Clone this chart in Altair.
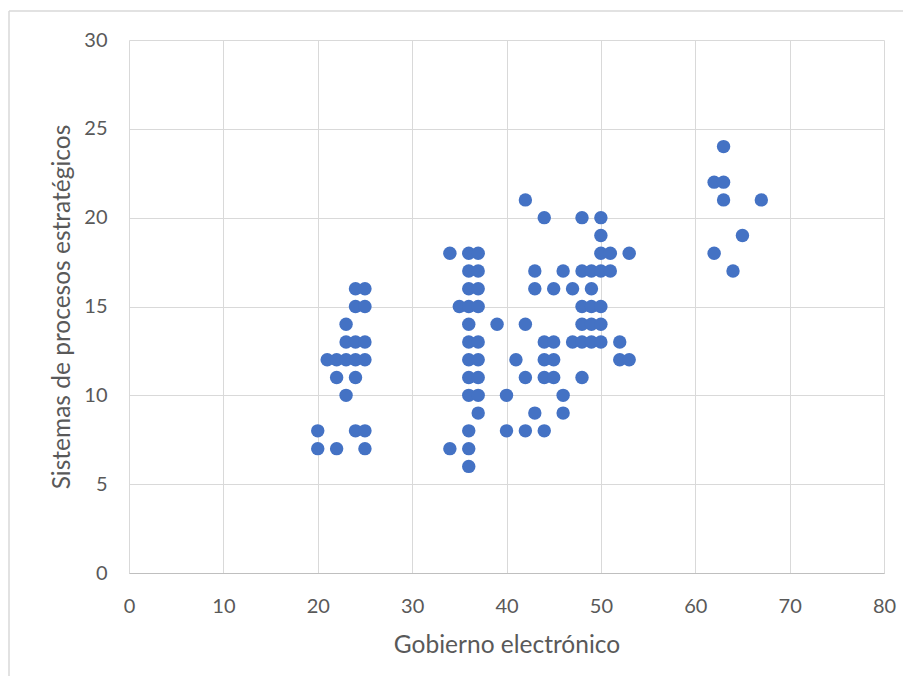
import altair as alt
import pandas as pd

gobierno = [24, 25, 24, 25, 23, 23, 24, 25, 21, 22, 23, 24, 25, 22, 24, 23, 20, 24, 25, 20, 22, 25,
            34, 36, 37, 36, 37, 36, 37, 35, 36, 37, 36, 39, 42, 36, 37, 36, 37, 41, 36, 37, 42,
            36, 37, 40, 37, 43, 36, 40, 42, 34, 36, 36,
            42, 44, 48, 50, 50, 50, 51, 53, 43, 46, 48, 49, 50, 51, 43, 45, 47, 49, 48, 49, 50,
            48, 49, 50, 44, 45, 47, 48, 49, 50, 52, 44, 45, 52, 53, 44, 45, 48, 46, 46, 44,
            63, 62, 63, 63, 67, 65, 62, 64]
sistemas = [16, 16, 15, 15, 14, 13, 13, 13, 12, 12, 12, 12, 12, 11, 11, 10, 8, 8, 8, 7, 7, 7,
            18, 18, 18, 17, 17, 16, 16, 15, 15, 15, 14, 14, 14, 13, 13, 12, 12, 12, 11, 11, 11,
            10, 10, 10, 9, 9, 8, 8, 8, 7, 7, 6,
            21, 20, 20, 20, 19, 18, 18, 18, 17, 17, 17, 17, 17, 17, 16, 16, 16, 16, 15, 15, 15,
            14, 14, 14, 13, 13, 13, 13, 13, 13, 13, 12, 12, 12, 12, 11, 11, 11, 10, 9, 8,
            24, 22, 22, 21, 21, 19, 18, 17]

df = pd.DataFrame({"x": gobierno, "y": sistemas})

W, H = 755, 533
PL, PT, PR, PB = 121, 32, 19, 103
FONT = "Lato"
GRAY = "#595959"

points = alt.Chart(df).mark_circle(size=180, color="#4472C4", opacity=1).encode(
    x=alt.X("x:Q", scale=alt.Scale(domain=[0, 80], nice=False),
            axis=alt.Axis(title="Gobierno electrónico", values=list(range(0, 81, 10)),
                          grid=True, gridColor="#D9D9D9", domainColor="#BFBFBF",
                          ticks=False, labelFlush=False, labelPadding=23, labelFontSize=20,
                          labelColor=GRAY, labelFont=FONT, titleFont=FONT, titleFontSize=24.5,
                          titleColor=GRAY, titleFontWeight="normal", titlePadding=17)),
    y=alt.Y("y:Q", scale=alt.Scale(domain=[0, 30], nice=False),
            axis=alt.Axis(title="Sistemas de procesos estratégicos", values=list(range(0, 31, 5)),
                          grid=True, gridColor="#D9D9D9", domain=False,
                          ticks=False, labelFlush=False, labelPadding=22, labelFontSize=20,
                          labelColor=GRAY, labelFont=FONT, titleFont=FONT, titleFontSize=24.5,
                          titleColor=GRAY, titleFontWeight="normal", titlePadding=9)),
)

one = pd.DataFrame({"a": [0]})
left_edge = alt.Chart(one).mark_rule(stroke="#D9D9D9", strokeWidth=1.5, clip=False).encode(
    x=alt.value(-PL + 1), y=alt.value(-PT + 3), y2=alt.value(H + PB),
)
top_edge = alt.Chart(one).mark_rule(stroke="#D9D9D9", strokeWidth=1.5, clip=False).encode(
    x=alt.value(-PL + 1), x2=alt.value(W + PR), y=alt.value(-PT + 3),
)

chart = alt.layer(left_edge, top_edge, points).properties(
    width=W, height=H,
    padding={"left": PL, "top": PT, "right": PR, "bottom": PB},
    autosize=alt.AutoSizeParams(type="none"),
).configure_view(stroke=None)

chart.save("out.html", embed_options={"renderer": "svg", "actions": False})
